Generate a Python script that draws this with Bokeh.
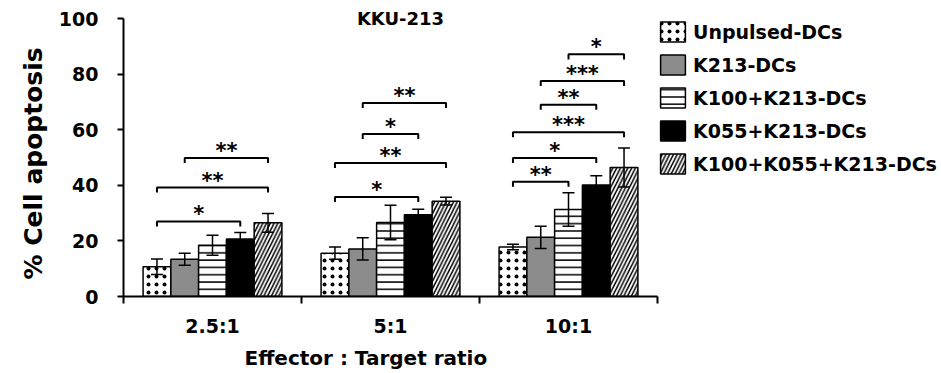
from bokeh.plotting import figure
from bokeh.models import (Range1d, FixedTicker, Whisker, TeeHead, ColumnDataSource, Label, Title)
from bokeh.core.properties import value
from bokeh.embed import file_html
from bokeh.resources import INLINE

# ---------------- data ----------------
ratios = ["2.5:1", "5:1", "10:1"]
series = ["Unpulsed-DCs", "K213-DCs", "K100+K213-DCs", "K055+K213-DCs", "K100+K055+K213-DCs"]

unpulsed = [10.7, 15.6, 17.8]
unpulsed_err = [2.8, 2.2, 1.0]
k213 = [13.4, 17.1, 21.3]
k213_err = [2.2, 4.0, 4.0]
k100_k213 = [18.4, 26.6, 31.3]
k100_k213_err = [3.6, 6.2, 6.0]
k055_k213 = [20.7, 29.4, 40.1]
k055_k213_err = [2.3, 2.0, 3.3]
k100_k055_k213 = [26.5, 34.3, 46.4]
k100_k055_k213_err = [3.4, 1.4, 7.0]

y_ticks = [0, 20, 40, 60, 80, 100]

# significance brackets: (ratio index, from series index, to series index, bracket level, label)
brackets = [
    (0, 0, 3, 27.0, "*"),
    (0, 0, 4, 39.2, "**"),
    (0, 1, 4, 49.8, "**"),
    (1, 0, 3, 35.8, "*"),
    (1, 0, 4, 48.0, "**"),
    (1, 1, 3, 58.5, "*"),
    (1, 1, 4, 69.6, "**"),
    (2, 0, 2, 41.3, "**"),
    (2, 0, 3, 49.8, "*"),
    (2, 0, 4, 59.1, "***"),
    (2, 1, 3, 69.0, "**"),
    (2, 1, 4, 77.5, "***"),
    (2, 2, 4, 87.1, "*"),
]

chart_title = "KKU-213"
x_title = "Effector : Target ratio"
y_title = "% Cell apoptosis"

values = [unpulsed, k213, k100_k213, k055_k213, k100_k055_k213]
errors = [unpulsed_err, k213_err, k100_k213_err, k055_k213_err, k100_k055_k213_err]

# ---------------- style / layout ----------------
FONT = value("DejaVu Sans")
fills = ["white", "#8c8c8c", "white", "black", "white"]
hatches = [".", None, "-", None, "/"]
hatch_scales = [8, 8, 7.3, 8, 7.5]

W, H = 941, 373
LEFT = 123            # frame left edge (px)
ZERO_PX = 304         # pixel row of y = 0
HUNDRED_PX = 18.5     # pixel row of y = 100
GROUP_PX = 178.0      # width of one ratio group (px)
frame_w = W - LEFT
px_per_unit = (ZERO_PX - HUNDRED_PX) / 100.0
y_top = ZERO_PX / px_per_unit
bar_w = 0.156

p = figure(width=W, height=H, output_backend="svg", toolbar_location=None,
           x_range=Range1d(0, frame_w / GROUP_PX), y_range=Range1d(0, y_top),
           min_border_left=LEFT, min_border_right=0, min_border_top=0,
           min_border_bottom=H - ZERO_PX)
p.outline_line_color = None
p.grid.visible = False
p.background_fill_color = "white"
p.border_fill_color = "white"


def bar_x(gi, si):
    return gi + 0.5 + (si - 2) * bar_w


for si, name in enumerate(series):
    xs = [bar_x(gi, si) for gi in range(len(ratios))]
    tops = values[si]
    errs = errors[si]
    src = ColumnDataSource(dict(x=xs, top=tops,
                                upper=[t + e for t, e in zip(tops, errs)],
                                lower=[t - e for t, e in zip(tops, errs)]))
    kw = {}
    if hatches[si]:
        kw = dict(hatch_pattern=hatches[si], hatch_color="black",
                  hatch_weight=1.5, hatch_scale=hatch_scales[si])
    p.vbar(x="x", top="top", width=bar_w, source=src, fill_color=fills[si],
           line_color="black", line_width=1.5, legend_label=name, **kw)
    p.add_layout(Whisker(source=src, base="x", upper="upper", lower="lower",
                         line_color="black", line_width=1.5, level="overlay",
                         upper_head=TeeHead(size=12, line_width=1.5, line_color="black"),
                         lower_head=TeeHead(size=12, line_width=1.5, line_color="black")))

# brackets
leg = 1.8
bxs, bys, sx, sy, st = [], [], [], [], []
for gi, a, b, lvl, lab in brackets:
    x0, x1 = bar_x(gi, a), bar_x(gi, b)
    bxs.append([x0, x0, x1, x1])
    bys.append([lvl - leg, lvl, lvl, lvl - leg])
    sx.append((x0 + x1) / 2)
    sy.append(lvl)
    st.append(lab)
p.multi_line(bxs, bys, line_color="black", line_width=2)
p.text(sx, sy, text=st, text_font=FONT, text_font_style="bold", text_font_size="21px",
       text_align="center", text_baseline="alphabetic", y_offset=-7, text_color="black")

# axes
yax = p.yaxis[0]
yax.ticker = FixedTicker(ticks=y_ticks)
yax.bounds = (0, 100)
yax.major_tick_in = 0
yax.major_tick_out = 6
yax.minor_tick_line_color = None
yax.axis_line_width = 2
yax.major_tick_line_width = 2
yax.major_label_text_font = "DejaVu Sans"
yax.major_label_text_font_style = "bold"
yax.major_label_text_font_size = "19px"
yax.major_label_text_color = "black"
yax.major_label_standoff = 19

# y-axis title, placed along the 0-100 axis span (the frame extends above 100)
p.add_layout(Title(text=y_title, align="left", offset=17, standoff=15,
                   text_font="DejaVu Sans", text_font_style="bold", text_font_size="25px",
                   text_color="black"), "left")

xax = p.xaxis[0]
xax.ticker = FixedTicker(ticks=[i + 0.5 for i in range(len(ratios))],
                         minor_ticks=list(range(len(ratios) + 1)))
xax.major_label_overrides = {i + 0.5: r for i, r in enumerate(ratios)}
xax.bounds = (0, len(ratios))
xax.major_tick_in = 0
xax.major_tick_out = 0
xax.minor_tick_in = 0
xax.minor_tick_out = 7
xax.minor_tick_line_width = 2
xax.minor_tick_line_color = "black"
xax.axis_line_width = 2
xax.major_label_text_font = "DejaVu Sans"
xax.major_label_text_font_style = "bold"
xax.major_label_text_font_size = "19px"
xax.major_label_text_color = "black"
xax.major_label_standoff = 11

# x-axis title (below the tick labels, left-aligned with an offset)
p.add_layout(Title(text=x_title, align="left", offset=244 - LEFT, standoff=8,
                   text_font="DejaVu Sans", text_font_style="bold", text_font_size="20px",
                   text_color="black"), "below")

# chart title inside the frame
p.add_layout(Label(x=(400 - LEFT) / GROUP_PX, y=100, text=chart_title,
                   text_font="DejaVu Sans", text_font_style="bold", text_font_size="18px",
                   text_align="center", text_baseline="middle", text_color="black"))

# legend
lg = p.legend[0]
lg.location = (657 - LEFT, 120)
lg.padding = 0
lg.margin = 0
lg.spacing = 8
lg.glyph_width = 31
lg.glyph_height = 25
lg.label_height = 25
lg.label_standoff = 5
lg.border_line_alpha = 0
lg.background_fill_alpha = 0
lg.label_text_font = "DejaVu Sans"
lg.label_text_font_style = "bold"
lg.label_text_font_size = "19px"
lg.label_text_color = "black"

open("out.html", "w").write(file_html(p, INLINE))
